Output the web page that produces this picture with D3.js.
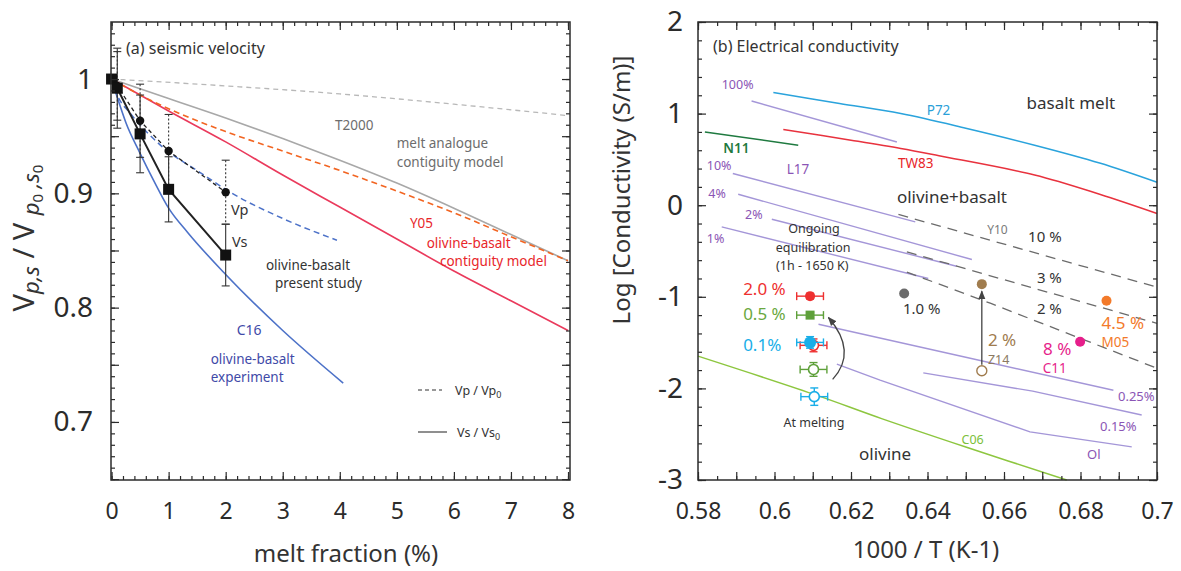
<!DOCTYPE html>
<html><head><meta charset="utf-8">
<script src="https://cdn.jsdelivr.net/npm/d3@7"></script>
<style>body{margin:0;background:#fff} text{font-family:'Noto Sans','Open Sans',sans-serif}</style>
</head><body>
<script>
// ================= Panel (a) data: seismic velocity =================
const meltX      = [0, 0.1, 0.5, 1, 2];
const vsRatio    = [1.0, 0.992, 0.952, 0.9035, 0.846];
const vsErr      = [0, 0.035, 0.034, 0.0285, 0.027];
const vpRatio    = [1.0, 0.994, 0.9635, 0.937, 0.901];
const vpErr      = [0, 0.03, 0.032, 0.032, 0.028];
const c16Vs      = [[0,1],[0.1,0.984],[0.25,0.962],[0.5,0.935],[0.75,0.91],[1,0.887],[1.33,0.866],[2,0.829],[3,0.78],[4.06,0.734]];
const c16Vp      = [[0,1],[0.1,0.986],[0.33,0.970],[0.86,0.942],[1.56,0.918],[2.08,0.901],[3,0.878],[3.95,0.859]];
const t2000Vs    = [[0,1],[1,0.983],[2,0.966],[3,0.948],[4,0.929],[5,0.909],[6,0.887],[7,0.864],[8,0.841]];
const t2000Vp    = [[0,1],[2,0.994],[4,0.987],[6,0.978],[8,0.968]];
const y05Vp      = [[0,1],[0.5,0.986],[1,0.974],[2,0.954],[3,0.937],[4,0.92],[5,0.902],[6,0.883],[7,0.862],[8,0.841]];
const y05Vs      = [[0,1],[1,0.972],[2,0.945],[3,0.916],[4,0.888],[5,0.86],[6,0.832],[7,0.806],[8,0.78]];
const aXTicks    = [0,1,2,3,4,5,6,7,8];
const aYTicks    = [0.7,0.8,0.9,1];

// ================= Panel (b) data: electrical conductivity =================
const p72   = [[0.5997,1.23],[0.617,1.11],[0.633,1.0],[0.65,0.84],[0.668,0.655],[0.685,0.46],[0.7,0.25]];
const tw83  = [[0.6023,0.826],[0.62,0.71],[0.633,0.62],[0.643,0.54],[0.668,0.33],[0.685,0.12],[0.7,-0.09]];
const n11   = [[0.5818,0.80],[0.6062,0.655]];
const l17_100 = [[0.594,1.138],[0.632,0.69]];
const l17_10  = [[0.5891,0.346],[0.6368,-0.182]];
const l17_4   = [[0.5905,0.120],[0.6516,-0.593]];
const l17_2   = [[0.5993,-0.153],[0.6476,-0.666]];
const l17_1   = [[0.5862,-0.237],[0.6402,-0.80]];
const ol025   = [[0.6115,-1.30],[0.65,-1.66],[0.6886,-2.02]];
const ol015   = [[0.6389,-1.83],[0.6675,-2.03],[0.696,-2.29]];
const olDry   = [[0.6163,-1.735],[0.6276,-1.91],[0.6668,-2.474],[0.6934,-2.638]];
const c06     = [[0.58,-1.648],[0.61,-2.06],[0.628,-2.33],[0.65,-2.64],[0.6764,-3.0]];
const y10_10  = [[0.6324,-0.101],[0.70,-0.894]];
const y10_3   = [[0.6346,-0.51],[0.70,-1.29]];
const y10_2   = [[0.6346,-0.73],[0.6564,-1.07],[0.70,-1.78]];
const y10Pt   = [0.6339,-0.963];
const z14Pt   = [0.6542,-0.862];
const z14Open = [0.6542,-1.808];
const m05Pt   = [0.6868,-1.044];
const c11Pt   = [0.6799,-1.49];
const ongoingX = [0.6093,0.6093,0.6093];
const ongoingY = [-0.993,-1.20,-1.498];
const ongoingYErr = [0.03,0.03,0.063];
const meltingX = [0.6102,0.6102,0.6104];
const meltingY = [-1.53,-1.793,-2.09];
const meltingYErr = [0.07,0.075,0.095];
const tempXErr = 0.0035;
const bXTicks = [0.58,0.6,0.62,0.64,0.66,0.68,0.7];
const bYTicks = [-3,-2,-1,0,1,2];

// ================= drawing =================
const svg = d3.select('body').append('svg').attr('width',1181).attr('height',571);
const xA = d3.scaleLinear().domain([-0.01,8.035]).range([111,570]);
const yA = d3.scaleLinear().domain([0.6492,1.0499]).range([480,22]);
const xB = d3.scaleLinear().domain([0.58,0.70]).range([698,1157]);
const yB = d3.scaleLinear().domain([-3,2]).range([480,22]);
const INK = '#2b2b2b';

function range(a,b,s){const o=[];for(let v=a;v<=b+1e-9;v+=s)o.push(+v.toFixed(4));return o;}

function frame(x,y,xMinor,xMajor,yMinor,yMajor){
  const [x0,x1]=x.range(), [y0,y1]=y.range();
  const g=svg.append('g');
  const add=(fn,sc,vals,len,tr)=>g.append('g').attr('transform',tr)
     .call(fn(sc).tickValues(vals).tickSize(-len).tickFormat(''))
     .call(s=>{s.select('.domain').remove();s.selectAll('line').attr('stroke',INK).attr('stroke-width',1.2);});
  add(d3.axisBottom,x,xMinor,4,`translate(0,${y0})`);
  add(d3.axisBottom,x,xMajor,8,`translate(0,${y0})`);
  add(d3.axisTop,x,xMinor,4,`translate(0,${y1})`);
  add(d3.axisTop,x,xMajor,8,`translate(0,${y1})`);
  add(d3.axisLeft,y,yMinor,4,`translate(${x0},0)`);
  add(d3.axisLeft,y,yMajor,8,`translate(${x0},0)`);
  add(d3.axisRight,y,yMinor,4,`translate(${x1},0)`);
  add(d3.axisRight,y,yMajor,8,`translate(${x1},0)`);
  g.append('rect').attr('x',x0).attr('y',y1).attr('width',x1-x0).attr('height',y0-y1)
   .attr('fill','none').attr('stroke',INK).attr('stroke-width',1.5);
}
function labels(x,y,xt,yt,xf,yf,yPad){
  const [x0]=x.range(), [y0]=y.range();
  svg.append('g').attr('transform',`translate(0,${y0})`)
    .call(d3.axisBottom(x).tickValues(xt).tickSize(0).tickPadding(23).tickFormat(xf))
    .call(s=>{s.select('.domain').remove();s.selectAll('text').attr('font-size',23).attr('fill',INK).attr('font-family',"'Noto Sans',sans-serif");});
  svg.append('g').attr('transform',`translate(${x0},0)`)
    .call(d3.axisLeft(y).tickValues(yt).tickSize(0).tickPadding(yPad).tickFormat(yf))
    .call(s=>{s.select('.domain').remove();s.selectAll('text').attr('font-size',28).attr('fill',INK).attr('font-family',"'Noto Sans',sans-serif");});
}

function path(x,y,data,color,width,dash,curve){
  const line=d3.line().x(d=>x(d[0])).y(d=>y(d[1])).curve(curve||d3.curveCatmullRom);
  svg.append('path').attr('d',line(data)).attr('fill','none').attr('stroke',color)
    .attr('stroke-width',width).attr('stroke-dasharray',dash||null);
}
function txt(x,y,p,s,color,size,anchor,weight){
  return svg.append('text').attr('x',x(p[0])).attr('y',y(p[1])).text(s).attr('fill',color)
    .attr('font-size',size).attr('text-anchor',anchor||'start').attr('font-weight',weight||null);
}

// ---------- Panel (a) ----------
svg.append('defs').append('clipPath').attr('id','clipA').append('rect')
  .attr('x',111).attr('y',22).attr('width',459).attr('height',458);
const gClipA = svg.append('g').attr('clip-path','url(#clipA)');
function pathA(data,color,width,dash){
  const line=d3.line().x(d=>xA(d[0])).y(d=>yA(d[1])).curve(d3.curveMonotoneX);
  gClipA.append('path').attr('d',line(data)).attr('fill','none').attr('stroke',color)
    .attr('stroke-width',width).attr('stroke-dasharray',dash||null);
}
pathA(t2000Vp,'#b8b8b8',1.3,'5,4');
pathA(t2000Vs,'#a8a8a8',1.6);
pathA(y05Vs,'#ea3a5c',1.6);
pathA(y05Vp,'#f26522',1.6,'6,4');
pathA(c16Vs,'#4d72c8',1.6);
pathA(c16Vp,'#4d72c8',1.5,'6,4');

// error bars
function vbar(xv,yv,e,dash){
  if(!e) return;
  const X=xA(xv), yt=yA(yv+e), yb=yA(yv-e);
  svg.append('line').attr('x1',X).attr('x2',X).attr('y1',yt).attr('y2',yb).attr('stroke','#333').attr('stroke-width',1.1).attr('stroke-dasharray',dash||null);
  [yt,yb].forEach(yy=>svg.append('line').attr('x1',X-4).attr('x2',X+4).attr('y1',yy).attr('y2',yy).attr('stroke','#333').attr('stroke-width',1.1));
}
meltX.forEach((m,i)=>{vbar(m,vpRatio[i],vpErr[i],'2,2');});
meltX.forEach((m,i)=>{vbar(m,vsRatio[i],vsErr[i]);});
const lineVp=d3.line().x((d,i)=>xA(meltX[i])).y(d=>yA(d));
svg.append('path').attr('d',lineVp(vpRatio)).attr('fill','none').attr('stroke','#222').attr('stroke-width',1.3).attr('stroke-dasharray','4,3');
svg.append('path').attr('d',lineVp(vsRatio)).attr('fill','none').attr('stroke','#222').attr('stroke-width',2);
svg.selectAll('.vp').data(vpRatio).enter().append('circle').attr('cx',(d,i)=>xA(meltX[i])).attr('cy',d=>yA(d)).attr('r',4.2).attr('fill','#111');
svg.selectAll('.vs').data(vsRatio).enter().append('rect').attr('x',(d,i)=>xA(meltX[i])-5.5).attr('y',d=>yA(d)-5.5).attr('width',11).attr('height',11).attr('fill','#111');

frame(xA,yA,range(0,8,0.2),aXTicks,range(0.65,1.04,0.01),range(0.65,1.04,0.05));
labels(xA,yA,aXTicks,aYTicks,d3.format('d'),d=>d===1?'1':d3.format('.1f')(d),18);

// annotations (a)
const GRAYT='#6d6d6d', REDT='#e8262a', BLUET='#3f4aa8';
txt(xA,yA,[3.916,0.9554],'T2000',GRAYT,13.5);
txt(xA,yA,[4.997,0.9396],'melt analogue',GRAYT,13.5);
txt(xA,yA,[4.997,0.9234],'contiguity model',GRAYT,13.5);
txt(xA,yA,[5.23,0.8696],'Y05',REDT,13.5);
txt(xA,yA,[5.523,0.8526],'olivine-basalt',REDT,13.5);
txt(xA,yA,[5.756,0.8366],'contiguity model',REDT,13.5);
txt(xA,yA,[2.093,0.881],'Vp','#333',14.5);
txt(xA,yA,[2.11,0.853],'Vs','#333',14.5);
txt(xA,yA,[2.706,0.8329],'olivine-basalt','#333',13.5);
txt(xA,yA,[2.864,0.8171],'present study','#333',13.5);
txt(xA,yA,[2.193,0.776],'C16',BLUET,14);
txt(xA,yA,[1.737,0.7507],'olivine-basalt',BLUET,13.5);
txt(xA,yA,[1.737,0.7353],'experiment',BLUET,13.5);
svg.append('text').attr('x',126).attr('y',54).text('(a) seismic velocity').attr('fill','#333').attr('font-size',16);
// legend (a)
svg.append('line').attr('x1',418).attr('x2',442).attr('y1',390).attr('y2',390).attr('stroke','#333').attr('stroke-width',1.1).attr('stroke-dasharray','4,3');
svg.append('line').attr('x1',418).attr('x2',447).attr('y1',432).attr('y2',432).attr('stroke','#333').attr('stroke-width',1.1);
{const t=svg.append('text').attr('x',455).attr('y',395).attr('font-size',12.5).attr('fill','#333');
 t.append('tspan').text('Vp / Vp'); t.append('tspan').text('0').attr('font-size',9).attr('dy',3);}
{const t=svg.append('text').attr('x',457).attr('y',437).attr('font-size',12.5).attr('fill','#333');
 t.append('tspan').text('Vs / Vs'); t.append('tspan').text('0').attr('font-size',9).attr('dy',3);}
// y title (a)
{const t=svg.append('text').attr('transform','translate(34,238) rotate(-90)').attr('text-anchor','middle').attr('font-size',29).attr('fill','#333');
 t.append('tspan').text('V');
 t.append('tspan').text('p,s').attr('font-style','italic').attr('font-size',22).attr('dy',5);
 t.append('tspan').text(' / V ').attr('dy',-5);
 t.append('tspan').text('p').attr('font-style','italic').attr('font-size',22).attr('dy',5);
 t.append('tspan').text('0').attr('font-size',15).attr('dy',4);
 t.append('tspan').text(' ,s').attr('font-style','italic').attr('font-size',22).attr('dy',-4);
 t.append('tspan').text('0').attr('font-size',15).attr('dy',4);}
svg.append('text').attr('x',346).attr('y',562).attr('text-anchor','middle').attr('font-size',24).attr('fill','#333').text('melt fraction (%)');

// ---------- Panel (b) ----------
const PURL='#a496d8', PURT='#8b55b5';
path(xB,yB,p72,'#2aa3dc',1.5);
path(xB,yB,tw83,'#e8323e',1.5);
path(xB,yB,n11,'#1f7a40',1.5);
[l17_100,l17_10,l17_4,l17_2,l17_1,ol025,ol015,olDry].forEach(d=>path(xB,yB,d,PURL,1.4,null,d3.curveLinear));
path(xB,yB,c06,'#8dc63f',1.5);
[y10_10,y10_3,y10_2].forEach(d=>path(xB,yB,d,'#6b6b6b',1.3,'10,7',d3.curveLinear));

function dot(p,r,fill,stroke){svg.append('circle').attr('cx',xB(p[0])).attr('cy',yB(p[1])).attr('r',r).attr('fill',fill).attr('stroke',stroke||'none').attr('stroke-width',1.4);}
dot(y10Pt,5,'#6b6b6b');
dot(z14Pt,5,'#a07c4e');
dot(m05Pt,5,'#f37a2a');
dot(c11Pt,5,'#e61f8b');
// Z14 arrow
svg.append('defs').html('<marker id="ah" viewBox="0 0 10 10" refX="9" refY="5" markerWidth="7" markerHeight="7" orient="auto"><path d="M0,1 L10,5 L0,9 z" fill="#444"/></marker>');
svg.append('line').attr('x1',xB(z14Open[0])).attr('x2',xB(z14Pt[0])).attr('y1',yB(z14Open[1])-6).attr('y2',yB(z14Pt[1])+7)
  .attr('stroke','#444').attr('stroke-width',1.3).attr('marker-end','url(#ah)');
dot(z14Open,5,'#fff','#a07c4e');

// experimental points with error bars
const expCols=['#ee3030','#5ea03a','#19aee8'];
function ebar(xv,yv,ye,col){
  const X=xB(xv),Y=yB(yv),xl=xB(xv-tempXErr),xr=xB(xv+tempXErr);
  svg.append('line').attr('x1',xl).attr('x2',xr).attr('y1',Y).attr('y2',Y).attr('stroke',col).attr('stroke-width',1.4);
  [xl,xr].forEach(xx=>svg.append('line').attr('x1',xx).attr('x2',xx).attr('y1',Y-4).attr('y2',Y+4).attr('stroke',col).attr('stroke-width',1.4));
  const yt=yB(yv+ye), yb=yB(yv-ye);
  svg.append('line').attr('x1',X).attr('x2',X).attr('y1',yt).attr('y2',yb).attr('stroke',col).attr('stroke-width',1.4);
  [yt,yb].forEach(yy=>svg.append('line').attr('x1',X-4).attr('x2',X+4).attr('y1',yy).attr('y2',yy).attr('stroke',col).attr('stroke-width',1.4));
}
meltingX.forEach((xv,i)=>{ebar(xv,meltingY[i],meltingYErr[i],expCols[i]);
  svg.append('circle').attr('cx',xB(xv)).attr('cy',yB(meltingY[i])).attr('r',5).attr('fill','#fff').attr('stroke',expCols[i]).attr('stroke-width',1.6);});
ongoingX.forEach((xv,i)=>{ebar(xv,ongoingY[i],ongoingYErr[i],expCols[i]);
  if(i===1) svg.append('rect').attr('x',xB(xv)-4.5).attr('y',yB(ongoingY[i])-4.5).attr('width',9).attr('height',9).attr('fill',expCols[i]);
  else svg.append('circle').attr('cx',xB(xv)).attr('cy',yB(ongoingY[i])).attr('r',i===2?6:5).attr('fill',expCols[i]);});
// curved arrow
{const a=[0.6152,-1.902], b=[0.6141,-1.226], c=[0.6218,-1.60];
 svg.append('path').attr('d',`M${xB(a[0])},${yB(a[1])} Q${xB(c[0])},${yB(c[1])} ${xB(b[0])},${yB(b[1])}`)
  .attr('fill','none').attr('stroke','#444').attr('stroke-width',1.3).attr('marker-end','url(#ah)');}

frame(xB,yB,range(0.58,0.70,0.005),range(0.58,0.70,0.01),range(-3,2,0.2),bYTicks);
labels(xB,yB,bXTicks,bYTicks,d=>d3.format('.2~f')(d),d=>String(d).replace('\u2212','-'),15);

// annotations (b)
svg.append('text').attr('x',713).attr('y',52).text('(b) Electrical conductivity').attr('fill','#333').attr('font-size',16);
txt(xB,yB,[0.6659,1.047],'basalt melt','#333',17);
txt(xB,yB,[0.6398,0.9875],'P72','#2aa0d8',13.5);
txt(xB,yB,[0.6323,0.404],'TW83','#e8262a',13.5);
txt(xB,yB,[0.5866,0.5674],'N11','#1f7a40',13.5,'start',600);
txt(xB,yB,[0.6032,0.344],'L17',PURT,13.5);
txt(xB,yB,[0.5862,1.271],'100%',PURT,12.5);
txt(xB,yB,[0.5823,0.387],'10%',PURT,12.5);
txt(xB,yB,[0.5827,0.082],'4%',PURT,12.5);
txt(xB,yB,[0.5923,-0.147],'2%',PURT,12.5);
txt(xB,yB,[0.5823,-0.409],'1%',PURT,12.5);
txt(xB,yB,[0.632,0.027],'olivine+basalt','#333',17);
txt(xB,yB,[0.6556,-0.311],'Y10','#7a7a7a',12);
txt(xB,yB,[0.6663,-0.404],'10 %','#333',15);
txt(xB,yB,[0.6686,-0.846],'3 %','#333',15);
txt(xB,yB,[0.6686,-1.184],'2 %','#333',15);
txt(xB,yB,[0.6336,-1.184],'1.0 %','#333',15);
txt(xB,yB,[0.6103,-0.30],'Ongoing','#333',12.5,'middle');
txt(xB,yB,[0.6101,-0.507],'equilibration','#333',12.5,'middle');
txt(xB,yB,[0.6099,-0.709],'(1h - 1650 K)','#333',12.5,'middle');
txt(xB,yB,[0.5918,-0.982],'2.0 %','#ee3030',17);
txt(xB,yB,[0.5918,-1.255],'0.5 %','#6aa840',17);
txt(xB,yB,[0.5918,-1.593],'0.1%','#19aee8',17);
txt(xB,yB,[0.6103,-2.42],'At melting','#333',12.5,'middle');
txt(xB,yB,[0.6558,-1.538],'2 %','#a07c4e',17);
txt(xB,yB,[0.6558,-1.735],'Z14','#8c7a62',12.5);
txt(xB,yB,[0.6702,-1.637],'8 %','#e61f8b',17);
txt(xB,yB,[0.6701,-1.833],'C11','#e61f8b',13.5);
txt(xB,yB,[0.6855,-1.353],'4.5 %','#f37a2a',17);
txt(xB,yB,[0.6855,-1.549],'M05','#f37a2a',13.5);
txt(xB,yB,[0.6898,-2.139],'0.25%',PURT,13);
txt(xB,yB,[0.6851,-2.46],'0.15%',PURT,13);
txt(xB,yB,[0.6817,-2.766],'Ol',PURT,13);
txt(xB,yB,[0.6489,-2.608],'C06','#7cbf3a',12.5);
txt(xB,yB,[0.6221,-2.777],'olivine','#333',17);
svg.append('text').attr('transform','translate(630,190) rotate(-90)').attr('text-anchor','middle').attr('font-size',24).attr('fill','#333').text('Log [Conductivity (S/m)]');
svg.append('text').attr('x',926).attr('y',558).attr('text-anchor','middle').attr('font-size',24).attr('fill','#333').text('1000 / T (K-1)');
</script>
</body></html>
